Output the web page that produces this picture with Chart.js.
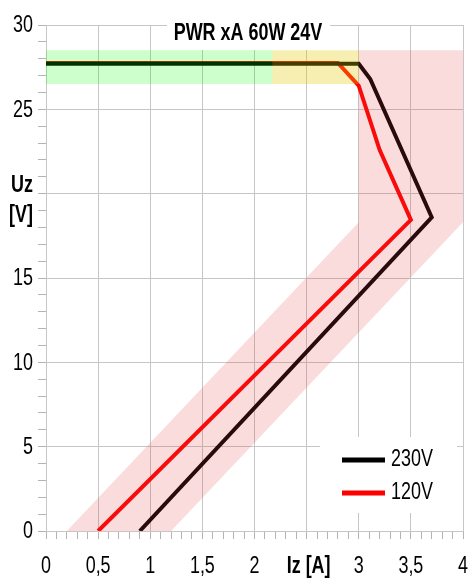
<!DOCTYPE html>
<html>
<head>
<meta charset="utf-8">
<script src="https://cdn.jsdelivr.net/npm/chart.js@4/dist/chart.umd.min.js"></script>
<style>
  html, body { margin: 0; padding: 0; background: #fff; }
  #wrap { width: 469px; height: 585px; }
</style>
</head>
<body>
<div id="wrap"><canvas id="myChart" width="469" height="585"></canvas></div>
<script>
var fam = "'Liberation Sans', Arial, sans-serif"
var squeeze = 0.78

// curves, Iz [A] / Uz [V]
var iz230 = [0, 3.0, 3.11, 3.7, 0.9]
var uz230 = [27.7, 27.7, 26.8, 18.6, 0]
var iz120 = [0, 2.8, 3.0, 3.2, 3.5, 0.5]
var uz120 = [27.75, 27.75, 26.4, 22.6, 18.45, 0]

// tolerance zones
var greenIz = [0, 2.17, 2.17, 0]
var greenUz = [26.5, 26.5, 28.5, 28.5]
var yellowIz = [2.17, 3, 3, 2.17]
var yellowUz = [26.5, 26.5, 28.5, 28.5]
var pinkIz = [0.2, 1.2, 4, 4, 3, 3]
var pinkUz = [0, 0, 18.3, 28.5, 28.5, 18.3]

var seriesNames = ['230V', '120V']
var seriesCols = ['#000000', '#ff0000']
var chartTitle = 'PWR xA 60W 24V'
var xTitle = 'Iz [A]'
var yTitle = ['Uz', '[V]']

function pts(xs, ys){
    var out = []
    for(var i = 0; i < xs.length; i++){
        out.push({x: xs[i], y: ys[i]})
    }
    return out
}

function zone(xs, ys, col){
    return {
        data: pts(xs, ys),
        showLine: true,
        fill: 'shape',
        backgroundColor: col,
        borderWidth: 0,
        pointRadius: 0,
        order: 0
    }
}

function curve(xs, ys, col, ord){
    return {
        data: pts(xs, ys),
        showLine: true,
        fill: false,
        borderColor: col,
        borderWidth: 4,
        pointRadius: 0,
        tension: 0,
        order: ord
    }
}

function isMajorX(v){
    return Math.abs(v * 2 - Math.round(v * 2)) < 1e-6
}

// narrow text, like Arial Narrow
function nText(c, txt, x, y, align, bold){
    c.save()
    c.translate(x, y)
    c.scale(squeeze, 1)
    c.font = (bold ? 'bold ' : '') + '23px ' + fam
    c.textAlign = align
    c.textBaseline = 'middle'
    c.fillStyle = '#000'
    c.fillText(txt, 0, 0)
    c.restore()
}

var gridCol = '#c6c6c6'

var boxes = {
    id: 'boxes',
    beforeDatasetsDraw: function(chart){
        var c = chart.ctx
        c.save()
        c.fillStyle = '#fff'
        c.fillRect(167, 18, 163, 32)
        c.fillRect(320, 437, 137, 76)
        c.restore()
    },
    afterDraw: function(chart){
        var c = chart.ctx
        var xs = chart.scales.x
        var ys = chart.scales.y

        // tick labels
        xs.ticks.forEach(function(t){
            var v = t.value
            if(!isMajorX(v)) return
            var px = xs.getPixelForValue(v)
            if(Math.abs(v - 2.5) < 1e-6){
                nText(c, xTitle, px + 2, 567, 'center', true)
            } else {
                nText(c, String(Math.round(v * 10) / 10).replace('.', ','), px, 567, 'center', false)
            }
        })
        ys.ticks.forEach(function(t){
            var v = t.value
            if(v % 5 !== 0) return
            var py = ys.getPixelForValue(v)
            if(v === 20){
                nText(c, yTitle[0], 33, py - 8, 'right', true)
                nText(c, yTitle[1], 33, py + 22, 'right', true)
            } else {
                nText(c, String(v), 33, py + 1, 'right', false)
            }
        })

        c.save()
        c.font = 'bold 23px ' + fam
        c.restore()
        nText(c, chartTitle, 248, 34, 'center', true)

        var ly = [460, 493]
        for(var i = 0; i < 2; i++){
            c.save()
            c.strokeStyle = seriesCols[i]
            c.lineWidth = 5
            c.beginPath()
            c.moveTo(342, ly[i])
            c.lineTo(385, ly[i])
            c.stroke()
            c.restore()
            nText(c, seriesNames[i], 391, ly[i], 'left', false)
        }
    }
}

var config = {
    type: 'scatter',
    data: {
        datasets: [
            zone(greenIz, greenUz, 'rgba(0,255,0,0.2)'),
            zone(yellowIz, yellowUz, 'rgba(230,200,0,0.3)'),
            zone(pinkIz, pinkUz, 'rgba(225,60,60,0.18)'),
            curve(iz230, uz230, '#000000', 1),
            curve(iz120, uz120, '#ff0000', 2)
        ]
    },
    options: {
        responsive: false,
        animation: false,
        layout: { padding: { top: 25, right: 6, left: 0, bottom: 0 } },
        plugins: {
            legend: { display: false },
            tooltip: { enabled: false }
        },
        scales: {
            x: {
                type: 'linear',
                min: 0,
                max: 4,
                afterFit: function(s){ s.height = 54; s.paddingLeft = 0; s.paddingRight = 0 },
                border: { color: gridCol },
                grid: {
                    color: function(ctx){ return isMajorX(ctx.tick.value) ? gridCol : 'rgba(0,0,0,0)' },
                    tickColor: '#b4b4b4',
                    tickLength: 8
                },
                ticks: {
                    stepSize: 0.1,
                    autoSkip: false,
                    maxRotation: 0,
                    minRotation: 0,
                    display: false
                }
            },
            y: {
                type: 'linear',
                min: 0,
                max: 30,
                afterFit: function(s){ s.width = 46; s.paddingTop = 0; s.paddingBottom = 0 },
                border: { color: gridCol },
                grid: {
                    color: function(ctx){ return ctx.tick.value % 5 === 0 ? gridCol : 'rgba(0,0,0,0)' },
                    tickColor: '#b4b4b4',
                    tickLength: 8
                },
                ticks: {
                    stepSize: 1,
                    autoSkip: false,
                    display: false
                }
            }
        }
    },
    plugins: [boxes]
}

var myChart = new Chart(document.getElementById('myChart'), config)
</script>
</body>
</html>
